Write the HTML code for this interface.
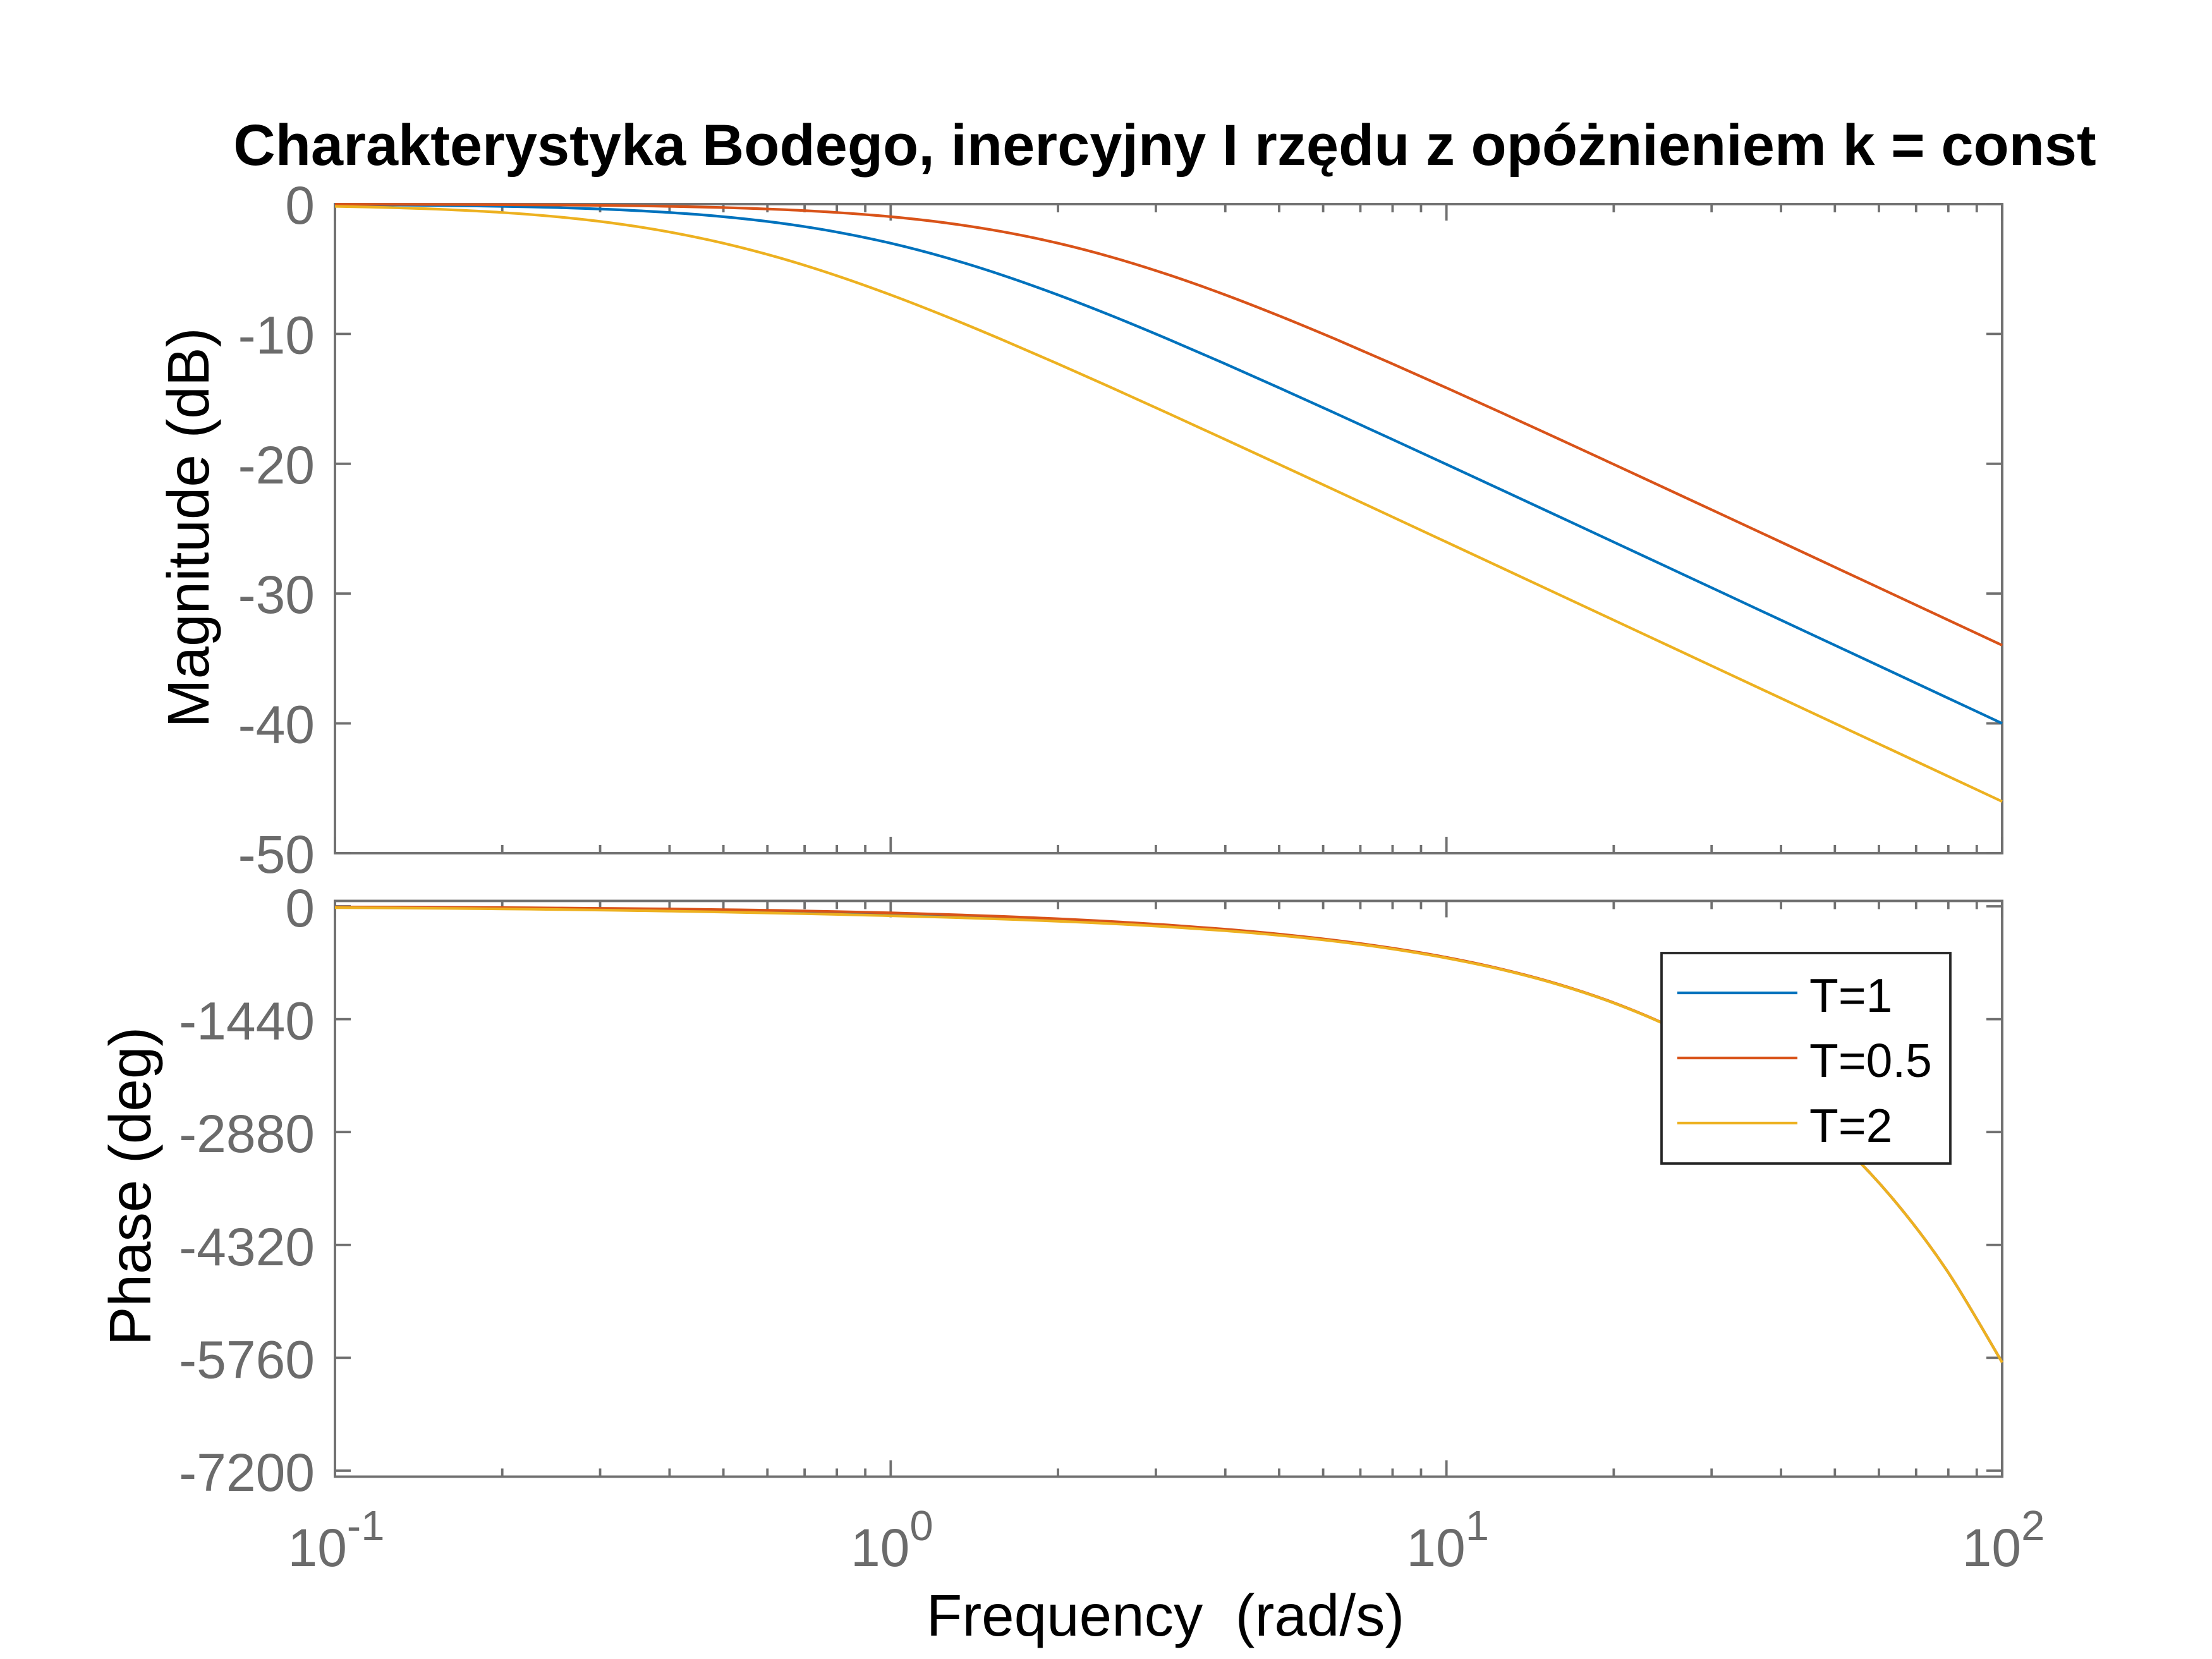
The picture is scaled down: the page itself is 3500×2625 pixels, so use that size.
<!DOCTYPE html>
<html lang="pl">
<head>
<meta charset="utf-8">
<title>Charakterystyka Bodego</title>
<style>
html,body{margin:0;padding:0;background:#fff;width:3500px;height:2625px;overflow:hidden}
svg{display:block}
text{font-family:"Liberation Sans",Arial,sans-serif}
.tick-label{font-size:84px;fill:#6b6b6b}
.axis-title{font-size:92.6px;fill:#000;white-space:pre}
.legend-text{font-size:75px;fill:#000}
</style>
</head>
<body>
<svg id="chart" xmlns="http://www.w3.org/2000/svg" width="3500" height="2625" viewBox="0 0 3500 2625">
  <rect x="0" y="0" width="3500" height="2625" fill="#ffffff"/>
  <text x="1843" y="261" text-anchor="middle" font-size="92" font-weight="bold" fill="#000">Charakterystyka Bodego, inercyjny I rzędu z opóżnieniem k = const</text>
  <text class="axis-title" transform="translate(330 835) rotate(-90)" text-anchor="middle">Magnitude (dB)</text>
  <text class="axis-title" transform="translate(238 1877) rotate(-90)" text-anchor="middle">Phase (deg)</text>
  <text class="axis-title" x="1844" y="2588" text-anchor="middle" xml:space="preserve">Frequency  (rad/s)</text>
  <g id="axes-layer"></g>
  <g id="series-layer"></g>
  <g>
    <rect x="2629" y="1508" width="457" height="333" fill="#ffffff" stroke="#262626" stroke-width="3.8"/>
    <line x1="2654" y1="1571" x2="2844" y2="1571" stroke="#0072BD" stroke-width="4.2"/>
    <text class="legend-text" x="2863" y="1601">T=1</text>
    <line x1="2654" y1="1674" x2="2844" y2="1674" stroke="#D95319" stroke-width="4.2"/>
    <text class="legend-text" x="2863" y="1704">T=0.5</text>
    <line x1="2654" y1="1777" x2="2844" y2="1777" stroke="#EDB120" stroke-width="4.2"/>
    <text class="legend-text" x="2863" y="1807">T=2</text>
  </g>
</svg>
<script>
const frequencies = [0.1,0.1259,0.1585,0.1995,0.2512,0.3162,0.3981,0.5012,0.631,0.7943,1,1.259,1.585,1.995,2.512,3.162,3.981,5.012,6.31,7.943,10,12.59,15.85,19.95,25.12,31.62,39.81,50.12,63.1,79.43,100];
const magT1 = [-0.043,-0.068,-0.108,-0.170,-0.266,-0.414,-0.640,-0.973,-1.455,-2.124,-3.010,-4.125,-5.456,-6.973,-8.639,-10.414,-12.266,-14.170,-16.108,-18.069,-20.043,-22.028,-24.017,-26.011,-28.007,-30.004,-32.003,-34.002,-36.001,-38.001,-40.000];
const magT05 = [-0.011,-0.017,-0.027,-0.043,-0.068,-0.107,-0.169,-0.265,-0.412,-0.636,-0.969,-1.449,-2.117,-2.999,-4.113,-5.441,-6.955,-8.621,-10.394,-12.248,-14.150,-16.085,-18.048,-20.022,-22.009,-23.997,-25.988,-27.987,-29.983,-31.984,-33.981];
const magT2 = [-0.170,-0.267,-0.416,-0.642,-0.978,-1.461,-2.132,-3.021,-4.136,-5.470,-6.990,-8.657,-10.434,-12.284,-14.190,-16.128,-18.089,-20.065,-22.047,-24.038,-26.031,-28.028,-30.026,-32.022,-34.023,-36.022,-38.021,-40.022,-42.02,-44.02,-46.02];
const phaseT1 = [-11.44,-14.39,-18.09,-22.71,-28.49,-35.67,-44.51,-55.34,-68.40,-83.97,-102.30,-123.68,-148.56,-177.68,-212.20,-253.65,-304.00,-365.92,-442.49,-537.92,-657.29,-806.86,-994.49,-1230.13,-1527.02,-1899.89,-2369.56,-2960.56,-3704.49,-4640.28,-5819.03];
const phaseT05 = [-8.59,-10.81,-13.61,-17.13,-21.55,-27.11,-34.07,-42.79,-53.66,-67.17,-83.87,-104.33,-129.21,-159.23,-195.37,-238.89,-291.43,-355.45,-433.91,-530.97,-651.69,-802.37,-990.90,-1227.27,-1524.75,-1898.08,-2368.12,-2959.41,-3703.58,-4639.56,-5818.45];
const phaseT2 = [-17.04,-21.31,-26.67,-33.18,-41.07,-50.43,-61.33,-73.79,-87.75,-103.32,-120.73,-140.48,-163.30,-190.23,-222.64,-262.21,-310.93,-371.50,-446.97,-541.50,-660.14,-809.13,-996.29,-1231.56,-1528.16,-1900.79,-2370.28,-2961.13,-3704.95,-4640.64,-5819.31];
const magTicks = [0,-10,-20,-30,-40,-50];
const phaseTicks = [0,-1440,-2880,-4320,-5760,-7200];
const decadeTicks = [0.1,1,10,100];
const decadeExponents = ['-1','0','1','2'];
const minorMultipliers = [2,3,4,5,6,7,8,9];

const NS = 'http://www.w3.org/2000/svg';
const AXIS = '#707070';
const plotLeft = 530, plotRight = 3168;
const magTop = 323, magBottom = 1350;
const phaseTop = 1425.5, phaseBottom = 2336.5;
const phaseZeroY = 1434, phaseEndY = 2327;

function xScale(w){ return plotLeft + (Math.log10(w) + 1) / 3 * (plotRight - plotLeft); }
function yMag(v){ return magTop + (0 - v) / 50 * (magBottom - magTop); }
function yPhase(v){ return phaseZeroY + (0 - v) / 7200 * (phaseEndY - phaseZeroY); }

const axesLayer = document.getElementById('axes-layer');
const seriesLayer = document.getElementById('series-layer');

function drawLine(x1, y1, x2, y2, name){
  const l = document.createElementNS(NS, 'line');
  l.setAttribute('x1', x1);
  l.setAttribute('y1', y1);
  l.setAttribute('x2', x2);
  l.setAttribute('y2', y2);
  l.setAttribute('stroke', AXIS);
  l.setAttribute('stroke-width', 3.8);
  
  
  axesLayer.appendChild(l);
}

function drawBox(top, bottom, name){
  const r = document.createElementNS(NS, 'rect');
  r.setAttribute('x', plotLeft);
  r.setAttribute('y', top);
  r.setAttribute('width', plotRight - plotLeft);
  r.setAttribute('height', bottom - top);
  r.setAttribute('fill', 'none');
  r.setAttribute('stroke', AXIS);
  r.setAttribute('stroke-width', 3.9);
  
  
  axesLayer.appendChild(r);
}

function drawXTicks(top, bottom, prefix){
  decadeTicks.forEach(function(d){
    const x = xScale(d);
    drawLine(x, bottom, x, bottom - 26, prefix + '-major-x-tick-bottom');
    drawLine(x, top, x, top + 26, prefix + '-major-x-tick-top');
    if (d < 100) {
      minorMultipliers.forEach(function(m){
        const xm = xScale(d * m);
        drawLine(xm, bottom, xm, bottom - 13, prefix + '-minor-x-tick-bottom');
        drawLine(xm, top, xm, top + 13, prefix + '-minor-x-tick-top');
      });
    }
  });
}

function drawYTicks(ticks, scale, offset, prefix){
  ticks.forEach(function(v){
    const y = scale(v);
    drawLine(plotLeft, y, plotLeft + 25, y, prefix + '-y-tick-left');
    drawLine(plotRight, y, plotRight - 25, y, prefix + '-y-tick-right');
    const t = document.createElementNS(NS, 'text');
    t.setAttribute('class', 'tick-label');
    t.setAttribute('x', 498);
    t.setAttribute('y', y + offset);
    t.setAttribute('text-anchor', 'end');
    
    
    t.textContent = String(v);
    axesLayer.appendChild(t);
  });
}

function drawXLabels(){
  decadeTicks.forEach(function(d, i){
    const t = document.createElementNS(NS, 'text');
    t.setAttribute('class', 'tick-label');
    t.setAttribute('x', xScale(d) + 2);
    t.setAttribute('y', 2478);
    t.setAttribute('text-anchor', 'middle');
    
    
    const base = document.createElementNS(NS, 'tspan');
    base.textContent = '10';
    const sup = document.createElementNS(NS, 'tspan');
    sup.setAttribute('dy', -41);
    sup.setAttribute('font-size', 67);
    sup.textContent = decadeExponents[i];
    t.appendChild(base);
    t.appendChild(sup);
    axesLayer.appendChild(t);
  });
}

function smoothPath(xs, ys){
  let d = 'M' + xs[0].toFixed(2) + ' ' + ys[0].toFixed(2);
  for (let i = 0; i < xs.length - 1; i++) {
    const p0 = Math.max(i - 1, 0), p3 = Math.min(i + 2, xs.length - 1);
    const c1x = xs[i] + (xs[i + 1] - xs[p0]) / 6;
    const c1y = ys[i] + (ys[i + 1] - ys[p0]) / 6;
    const c2x = xs[i + 1] - (xs[p3] - xs[i]) / 6;
    const c2y = ys[i + 1] - (ys[p3] - ys[i]) / 6;
    d += 'C' + c1x.toFixed(2) + ' ' + c1y.toFixed(2) + ' ' + c2x.toFixed(2) + ' ' + c2y.toFixed(2) + ' ' + xs[i + 1].toFixed(2) + ' ' + ys[i + 1].toFixed(2);
  }
  return d;
}

function drawSeries(values, scale, color, name){
  const p = document.createElementNS(NS, 'path');
  p.setAttribute('d', smoothPath(frequencies.map(xScale), values.map(scale)));
  p.setAttribute('fill', 'none');
  p.setAttribute('stroke', color);
  p.setAttribute('stroke-width', 4.2);
  p.setAttribute('stroke-linejoin', 'round');
  
  
  seriesLayer.appendChild(p);
}

drawBox(magTop, magBottom, 'magnitude-axes-box');
drawBox(phaseTop, phaseBottom, 'phase-axes-box');
drawXTicks(magTop, magBottom, 'magnitude');
drawXTicks(phaseTop, phaseBottom, 'phase');
drawYTicks(magTicks, yMag, 31, 'magnitude');
drawYTicks(phaseTicks, yPhase, 32, 'phase');
drawXLabels();

drawSeries(magT1, yMag, '#0072BD', 'magnitude-line-t1');
drawSeries(magT05, yMag, '#D95319', 'magnitude-line-t05');
drawSeries(magT2, yMag, '#EDB120', 'magnitude-line-t2');
drawSeries(phaseT1, yPhase, '#0072BD', 'phase-line-t1');
drawSeries(phaseT05, yPhase, '#D95319', 'phase-line-t05');
drawSeries(phaseT2, yPhase, '#EDB120', 'phase-line-t2');
</script>
</body>
</html>
